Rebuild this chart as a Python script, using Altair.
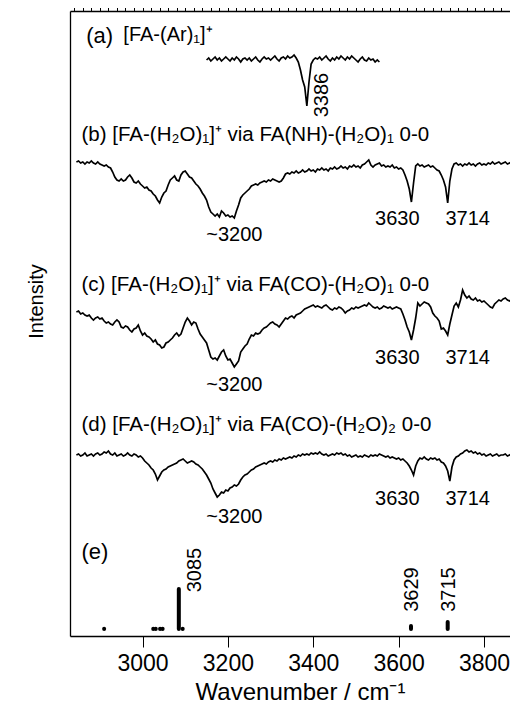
import altair as alt
import pandas as pd

FONT = "Liberation Sans"

# ---------------- axis ----------------
X_MIN, X_MAX = 2830, 3861
Y_MIN, Y_MAX = 0, 625
major_ticks = [3000, 3200, 3400, 3600, 3800]
mid_ticks = [2900, 3000, 3100, 3200, 3300, 3400, 3500, 3600, 3700, 3800]
minor_ticks = list(range(2840, 3861, 20))

# ---------------- spectra (5 cm-1 grid, relative intensity, arb. units) ----------------
a_start, a_step, a_offset = 3150, 5, 576
a_vals = [0, 2, -1, 1, 3, 0, 2, -1, 1, 3, 1, -1, 2, 0, 3, 1, -2, 1, 2, 0,
          2, -1, 1, 3, 0, -2, 1, 3, 1, 2, 0, 2, 4, 1, -1, 2, 3, 1, 4, 2,
          3, 5, 2, -2, -10, -20, -27, -46, -22, -4, 0, 2, 1, 3, 0, 2, 4, 1, -1, 2,
          0, 3, 1, 4, 2, 0, 3, 1, 4, 2, 0, -2, 1, 3, 0, -1, 2, 0, 1, -2,
          0, -2]

b_start, b_step, b_offset = 2845, 5, 473
b_vals = [1, 2, 0, 1, -1, 1, 0, 2, 0, -1, 1, -1, -2, -3, -2, -4, -5, -9, -14, -17,
          -18, -16, -18, -17, -14, -12, -15, -19, -20, -18, -21, -23, -25, -24, -27, -28, -31, -33, -37, -40,
          -34, -30, -28, -22, -17, -15, -13, -17, -18, -12, -9, -8, -11, -14, -15, -18, -21, -23, -26, -30,
          -33, -37, -44, -49, -51, -53, -51, -54, -48, -50, -53, -52, -54, -53, -55, -48, -42, -35, -32, -30,
          -28, -26, -23, -22, -21, -22, -20, -19, -18, -19, -17, -18, -16, -17, -18, -19, -18, -15, -11, -10,
          -11, -9, -10, -8, -10, -9, -7, -9, -8, -6, -8, -7, -9, -6, -7, -5, -7, -6, -8, -5,
          -6, -4, -6, -5, -3, -5, -4, -6, -3, -4, -2, -4, -3, -5, -2, -1, 1, 3, -2, -4,
          -2, -1, 0, -3, -2, -4, -3, -4, -2, -5, -4, -6, -5, -7, -12, -18, -26, -39, -20, -3,
          -1, -3, -2, -4, -3, -2, -4, -3, -5, -7, -8, -12, -17, -24, -40, -18, -6, -1, 0, -2,
          -1, -3, -1, -2, 0, -2, -1, -3, -1, 0, -2, -1, -2, 0, -1, 1, -1, 0, 1, -1,
          0, 1, -1, 0, 1, -1, 0]

c_start, c_step, c_offset = 2845, 5, 324
c_vals = [0, 1, -2, -1, -3, -4, -3, -6, -8, -6, -5, -7, -6, -9, -11, -10, -12, -13, -10, -8,
          -10, -15, -16, -14, -15, -18, -20, -17, -16, -13, -19, -23, -21, -24, -25, -27, -30, -28, -32, -33,
          -36, -35, -31, -30, -28, -26, -23, -21, -24, -22, -16, -10, -6, -9, -13, -10, -11, -17, -22, -25,
          -28, -31, -38, -45, -47, -46, -48, -44, -40, -38, -44, -48, -47, -51, -55, -52, -49, -40, -37, -34,
          -32, -27, -23, -24, -21, -22, -21, -18, -16, -15, -13, -11, -10, -12, -13, -15, -12, -9, -6, -7,
          -5, -4, -6, -3, -2, -1, 1, 3, 4, 5, 6, 7, 5, 6, 5, 4, 6, 7, 5, 3,
          2, 4, 3, 5, 4, 2, -1, 1, 2, 4, 3, 5, 4, 5, 6, 7, 6, 9, 7, 5,
          4, 5, 3, 4, 6, 5, 4, 5, 3, 4, 5, 4, 3, -2, -8, -15, -20, -28, -18, -6,
          9, 6, 8, 10, 9, 8, 5, -1, -4, -6, -9, -17, -16, -19, -23, -12, -3, 6, 9, 5,
          12, 22, 17, 14, 16, 13, 12, 14, 11, 12, 10, 11, 9, 7, 5, 4, 8, 10, 12, 11,
          13, 14, 12, 11, 13, 10, 11]

d_start, d_step, d_offset = 2845, 5, 181
d_vals = [0, 1, -1, 0, 2, -1, 0, 1, -1, 1, 2, 0, 1, 3, 2, 4, 1, 0, 2, -1,
          0, 1, -1, 0, 2, 0, -1, 1, 0, -2, -1, -3, -6, -8, -10, -13, -15, -19, -25, -21,
          -17, -15, -14, -12, -11, -10, -9, -8, -6, -5, -4, -6, -8, -7, -6, -7, -9, -10, -12, -14,
          -17, -20, -24, -28, -34, -38, -42, -40, -37, -38, -35, -36, -33, -32, -30, -31, -29, -25, -22, -20,
          -19, -17, -15, -14, -12, -11, -10, -9, -8, -9, -7, -6, -7, -5, -6, -4, -5, -3, -4, -3,
          -2, -3, -1, -2, 0, -1, 1, 0, 1, 0, 2, 1, 2, 1, 3, 1, 0, 1, -1, 0,
          1, 0, 2, 1, 2, 0, 1, -1, 0, -2, -1, 0, -2, -1, -2, 0, -1, -2, 0, -1,
          0, -1, 1, 0, -1, -2, -1, -3, -2, -3, -4, -3, -5, -4, -6, -8, -11, -15, -20, -11,
          -6, -3, -4, -2, -4, -5, -3, -4, -3, -5, -4, -7, -8, -11, -16, -26, -12, -5, -2, -1,
          1, 2, 4, 5, 3, 4, 2, 3, 1, 2, 0, 1, -1, 0, 1, -1, 0, 1, -1, 0,
          0, 1, -1, 0, 1, -1, 0]

# ---------------- stick spectrum (e) ----------------
stick_wn = [2910, 3025, 3031, 3041, 3047, 3085, 3094, 3629, 3715]
stick_h = [0.3, 0.3, 0.3, 0.3, 0.3, 40, 0.3, 3, 7]
stick_base = 7

# ---------------- annotations ----------------
panel_text = ["(a)", "[FA-(Ar)\u2081]\u207a",
              "(b) [FA-(H\u2082O)\u2081]\u207a via FA(NH)-(H\u2082O)\u2081 0-0",
              "(c) [FA-(H\u2082O)\u2081]\u207a via FA(CO)-(H\u2082O)\u2081 0-0",
              "(d) [FA-(H\u2082O)\u2081]\u207a via FA(CO)-(H\u2082O)\u2082 0-0",
              "(e)"]
panel_wn = [2868, 2955, 2857, 2857, 2857, 2857]
panel_y = [600, 601, 501, 351.5, 211.5, 84]
panel_size = [22, 20, 20.5, 20.5, 20.5, 22]

peak_text = ["~3200", "3630", "3714", "~3200", "3630", "3714", "~3200", "3630", "3714"]
peak_wn = [3215, 3597, 3762, 3215, 3597, 3762, 3215, 3597, 3762]
peak_y = [401, 417.5, 417.5, 251, 278.5, 278.5, 119.5, 137.5, 137.5]

rot_text = ["3386", "3085", "3629", "3715"]
rot_wn = [3420, 3124, 3632, 3718]
rot_y = [541, 66, 46.5, 46.5]

# ---------------- build tables ----------------
rows = []
for name, start, step, off, vals in [("a", a_start, a_step, a_offset, a_vals),
                                      ("b", b_start, b_step, b_offset, b_vals),
                                      ("c", c_start, c_step, c_offset, c_vals),
                                      ("d", d_start, d_step, d_offset, d_vals)]:
    for i, v in enumerate(vals):
        rows.append({"trace": name, "wn": start + i * step, "inten": off + v})
df_lines = pd.DataFrame(rows)

df_sticks = pd.DataFrame({"wn": stick_wn,
                          "y0": [stick_base] * len(stick_wn),
                          "y1": [stick_base + h for h in stick_h]})
df_panel = pd.DataFrame({"wn": panel_wn, "inten": panel_y, "text": panel_text, "size": panel_size})
df_peak = pd.DataFrame({"wn": peak_wn, "inten": peak_y, "text": peak_text})
df_rot = pd.DataFrame({"wn": rot_wn, "inten": rot_y, "text": rot_text})

xscale = alt.Scale(domain=[X_MIN, X_MAX], nice=False, zero=False)
yscale = alt.Scale(domain=[Y_MIN, Y_MAX], nice=False, zero=False)

FRAME = dict(domainColor="black", domainWidth=1.3)

axis_major = alt.Axis(values=major_ticks, tickSize=11, tickColor="black", tickWidth=1,
                      labelFontSize=23, labelFont=FONT, labelColor="black", labelPadding=5,
                      labelFlush=False, format="d", domain=True, grid=False,
                      title="Wavenumber / cm\u207b\u00b9", titleFont=FONT, titleFontSize=24,
                      titleFontWeight="normal", titleColor="black", titleBaseline="alphabetic",
                      titleY=63, titleX=230, **FRAME)
axis_mid = alt.Axis(values=mid_ticks, tickSize=8, tickColor="black", tickWidth=1,
                    labels=False, domain=False, grid=False, title=None)
axis_minor = alt.Axis(values=minor_ticks, tickSize=5, tickColor="black", tickWidth=1,
                      labels=False, domain=False, grid=False, title=None)
axis_top = alt.Axis(orient="top", ticks=False, labels=False, domain=True, grid=False,
                    title=None, **FRAME)
axis_y = alt.Axis(domain=True, ticks=False, labels=False, grid=False,
                  title="Intensity", titleFont=FONT, titleFontSize=20, titleFontWeight="normal",
                  titleColor="black", titleAngle=270, titleAlign="center", titleBaseline="middle",
                  titleX=-34, titleY=290, **FRAME)

lines = alt.Chart(df_lines).mark_line(color="black", strokeWidth=1.7, clip=True).encode(
    x=alt.X("wn:Q", scale=xscale, axis=axis_major),
    y=alt.Y("inten:Q", scale=yscale, axis=axis_y),
    detail="trace:N",
)

sticks = alt.Chart(df_sticks).mark_rule(color="black", strokeWidth=4, strokeCap="round").encode(
    x=alt.X("wn:Q", scale=xscale, axis=axis_mid),
    y=alt.Y("y0:Q", scale=yscale, axis=None),
    y2="y1:Q",
)

panels = alt.Chart(df_panel).mark_text(align="left", baseline="middle", font=FONT, color="black").encode(
    x=alt.X("wn:Q", scale=xscale, axis=axis_minor),
    y=alt.Y("inten:Q", scale=yscale, axis=None),
    text="text:N",
    size=alt.Size("size:Q", scale=None, legend=None),
)

peaks = alt.Chart(df_peak).mark_text(align="center", baseline="middle", font=FONT, color="black",
                                     fontSize=20).encode(
    x=alt.X("wn:Q", scale=xscale, axis=axis_top),
    y=alt.Y("inten:Q", scale=yscale, axis=None),
    text="text:N",
)

rots = alt.Chart(df_rot).mark_text(align="center", baseline="middle", font=FONT, color="black",
                                   fontSize=20, angle=270).encode(
    x=alt.X("wn:Q", scale=xscale, axis=None),
    y=alt.Y("inten:Q", scale=yscale, axis=None),
    text="text:N",
)

chart = alt.layer(lines, sticks, panels, peaks, rots).resolve_axis(
    x="independent", y="independent"
).properties(
    width=440, height=625,
    autosize=alt.AutoSizeParams(type="none"),
    padding={"left": 62, "top": 3, "right": 0, "bottom": 70},
).configure_view(stroke=None)

chart.save("out.html", embed_options={"renderer": "svg", "actions": False})
